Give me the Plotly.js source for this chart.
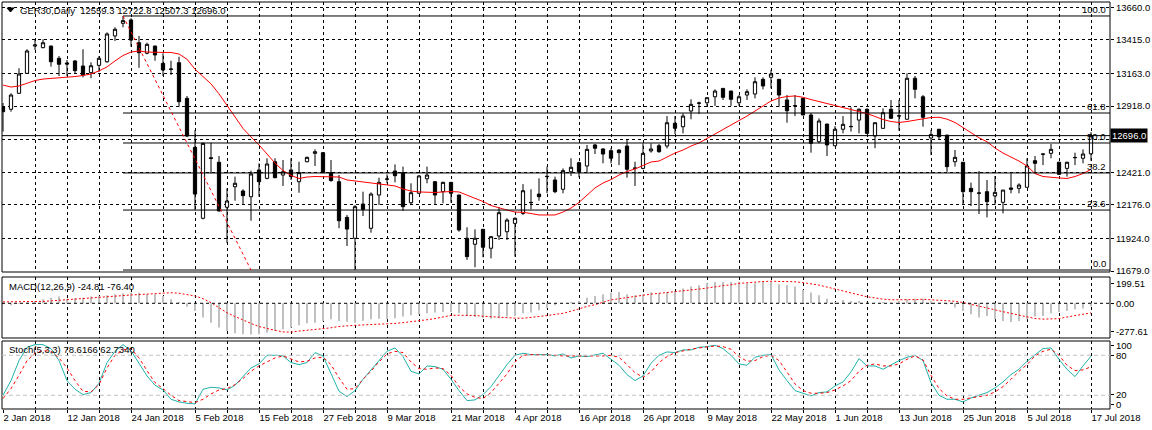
<!DOCTYPE html>
<html><head><meta charset="utf-8">
<script src="https://cdn.plot.ly/plotly-3.0.1.min.js"></script>
<style>html,body{margin:0;padding:0;background:#fff}#chart{width:1152px;height:430px}</style>
</head><body><div id="chart"></div>
<script>
const dates = [
'2018-01-02','2018-01-03','2018-01-04','2018-01-05','2018-01-08','2018-01-09','2018-01-10','2018-01-11','2018-01-12','2018-01-15',
'2018-01-16','2018-01-17','2018-01-18','2018-01-19','2018-01-22','2018-01-23','2018-01-24','2018-01-25','2018-01-26','2018-01-29',
'2018-01-30','2018-01-31','2018-02-01','2018-02-02','2018-02-05','2018-02-06','2018-02-07','2018-02-08','2018-02-09','2018-02-12',
'2018-02-13','2018-02-14','2018-02-15','2018-02-16','2018-02-19','2018-02-20','2018-02-21','2018-02-22','2018-02-23','2018-02-26',
'2018-02-27','2018-02-28','2018-03-01','2018-03-02','2018-03-05','2018-03-06','2018-03-07','2018-03-08','2018-03-09','2018-03-12',
'2018-03-13','2018-03-14','2018-03-15','2018-03-16','2018-03-19','2018-03-20','2018-03-21','2018-03-22','2018-03-23','2018-03-26',
'2018-03-27','2018-03-28','2018-03-29','2018-04-03','2018-04-04','2018-04-05','2018-04-06','2018-04-09','2018-04-10','2018-04-11',
'2018-04-12','2018-04-13','2018-04-16','2018-04-17','2018-04-18','2018-04-19','2018-04-20','2018-04-23','2018-04-24','2018-04-25',
'2018-04-26','2018-04-27','2018-04-30','2018-05-02','2018-05-03','2018-05-04','2018-05-07','2018-05-08','2018-05-09','2018-05-10',
'2018-05-11','2018-05-14','2018-05-15','2018-05-16','2018-05-17','2018-05-18','2018-05-22','2018-05-23','2018-05-24','2018-05-25',
'2018-05-28','2018-05-29','2018-05-30','2018-05-31','2018-06-01','2018-06-04','2018-06-05','2018-06-06','2018-06-07','2018-06-08',
'2018-06-11','2018-06-12','2018-06-13','2018-06-14','2018-06-15','2018-06-18','2018-06-19','2018-06-20','2018-06-21','2018-06-22',
'2018-06-25','2018-06-26','2018-06-27','2018-06-28','2018-06-29','2018-07-02','2018-07-03','2018-07-04','2018-07-05','2018-07-06',
'2018-07-09','2018-07-10','2018-07-11','2018-07-12','2018-07-13','2018-07-16','2018-07-17'];

const openP = [12913,12894,13014,13164,13369,13357,13369,13277,13242,13257,
13219,13169,13224,13251,13445,13540,13565,13394,13315,13369,
13239,13197,13244,12976,12608,12075,12530,12496,12158,12312,
12280,12237,12438,12375,12500,12400,12438,12350,12500,12563,
12568,12418,12350,12082,11925,12182,12000,12250,12368,12430,
12418,12192,12263,12372,12350,12275,12345,12250,11925,11880,
11992,11850,11942,11974,12037,12112,12192,12257,12388,12363,
12293,12425,12493,12468,12626,12596,12583,12588,12618,12450,
12450,12581,12620,12618,12789,12763,12881,12939,12943,12988,
13051,13031,12943,13001,13009,13119,13134,13119,12964,12919,
12976,12851,12650,12783,12620,12744,12763,12813,12894,12693,
12751,12894,12843,12819,13127,12988,12678,12744,12700,12500,
12496,12300,12263,12275,12243,12195,12303,12300,12308,12508,
12556,12563,12496,12450,12530,12526,12559.3];
const highP = [12941,13014,13202,13345,13414,13420,13372,13294,13264,13264,
13345,13247,13294,13472,13510,13595,13578,13445,13394,13372,
13315,13259,13289,12994,12738,12643,12643,12543,12300,12388,
12293,12433,12488,12526,12526,12513,12526,12500,12538,12593,
12570,12513,12400,12100,12175,12275,12270,12380,12405,12480,
12463,12338,12400,12463,12352,12350,12347,12252,12007,11992,
11994,11940,12158,12075,12082,12332,12293,12375,12463,12388,
12450,12526,12500,12626,12633,12601,12601,12593,12663,12500,
12638,12638,12633,12843,12843,12864,12969,12951,12985,13044,
13053,13033,13001,13044,13134,13134,13189,13121,13001,13001,
12978,12866,12826,12785,12768,12843,12909,12901,12901,12795,
12901,12964,12964,13164,13144,13001,12738,12746,12702,12588,
12498,12343,12430,12363,12393,12287,12413,12338,12526,12543,
12558,12633,12500,12500,12568,12593,12722.8];
const lowP = [12726,12876,13010,13160,13339,13352,13214,13144,13144,13159,
13134,13127,13176,13244,13407,13510,13364,13206,13307,13259,
13144,13152,12913,12685,12137,12067,12413,12125,11890,12207,
12175,12057,12237,12368,12376,12318,12363,12267,12496,12468,
12415,12350,12000,11867,11687,12092,11967,12175,12338,12345,
12130,12175,12260,12338,12175,12188,12192,11974,11762,11707,
11782,11774,11912,11912,11787,12100,12142,12207,12263,12263,
12263,12393,12383,12418,12558,12488,12488,12475,12380,12318,
12443,12568,12568,12600,12708,12713,12819,12858,12919,12919,
12964,12919,12919,12964,12976,13044,13051,12913,12793,12843,
12851,12568,12638,12543,12618,12713,12726,12713,12708,12601,
12749,12826,12733,12817,12976,12763,12550,12663,12425,12463,
12175,12167,12107,12082,12175,12112,12263,12263,12306,12413,
12475,12526,12400,12388,12475,12488,12507.3];
const closeP = [12876,13001,13159,13332,13377,13394,13251,13232,13234,13184,
13152,13221,13277,13460,13495,13560,13414,13319,13382,13302,
13189,13194,12951,12693,12257,12638,12524,12130,12205,12338,
12245,12408,12350,12483,12380,12425,12388,12418,12533,12575,
12418,12358,12057,11994,12162,12142,12257,12345,12370,12395,
12162,12267,12393,12400,12250,12345,12263,11987,11787,11925,
11857,11937,12117,12062,12075,12282,12194,12237,12390,12275,
12433,12458,12425,12593,12601,12558,12526,12568,12443,12452,
12563,12596,12575,12793,12751,12843,12931,12941,12981,13031,
12984,12969,12988,13026,13101,13069,13159,13001,12883,12921,
12851,12638,12806,12626,12744,12781,12765,12894,12713,12793,
12868,12826,12845,13127,13044,12834,12705,12688,12463,12533,
12275,12275,12265,12200,12270,12287,12293,12325,12468,12488,
12558,12593,12405,12496,12532,12558,12696.0];
const maLine = [13076,13061,13069,13088,13110,13121,13125,13129,13133,13140,
13148,13159,13182,13212,13257,13298,13324,13332,13324,13321,
13321,13321,13309,13270,13195,13140,13085,13010,12926,12836,
12750,12686,12626,12558,12490,12434,12397,12374,12385,12389,
12389,12389,12385,12363,12355,12348,12338,12330,12325,12318,
12295,12280,12273,12269,12269,12273,12276,12273,12250,12227,
12201,12171,12152,12137,12122,12120,12111,12100,12100,12100,
12122,12152,12194,12250,12303,12340,12366,12400,12427,12445,
12472,12498,12505,12535,12565,12588,12618,12641,12675,12705,
12738,12772,12810,12843,12881,12919,12956,12979,12990,12994,
12984,12967,12952,12937,12922,12907,12892,12877,12862,12840,
12817,12802,12795,12802,12813,12826,12832,12834,12820,12795,
12758,12718,12680,12650,12603,12565,12535,12505,12468,12411,
12389,12381,12378,12374,12389,12411,12442];
const macdMain = [-8,-16,-5,5,19,32,45,53,37,42,
45,53,58,64,72,80,85,85,72,72,
58,32,11,-27,-61,-114,-154,-193,-220,-239,
-246,-249,-246,-233,-220,-207,-193,-175,-159,-154,
-140,-127,-140,-146,-154,-138,-127,-122,-127,-119,
-106,-95,-87,-80,-74,-69,-69,-80,-101,-109,
-117,-122,-119,-106,-101,-80,-74,-56,-40,-16,
0,11,19,45,58,72,85,90,72,64,
72,85,80,90,98,117,133,143,159,170,
170,170,172,159,159,170,170,151,143,133,
106,85,64,37,11,27,19,19,5,5,
11,5,19,32,37,37,19,5,-8,-34,
-61,-87,-114,-101,-127,-140,-148,-140,-127,-106,
-101,-80,-69,-61,-48,-42,-24.81];
const macdSignal = [11,11,11,11,11,15,19,24,30,34,
39,44,48,54,59,64,66,69,73,78,
83,84,80,70,58,37,5,-35,-75,-105,
-135,-160,-185,-203,-215,-228,-229,-221,-215,-212,
-205,-195,-184,-178,-175,-172,-170,-167,-163,-160,
-154,-148,-140,-131,-122,-108,-96,-95,-95,-97,
-103,-108,-112,-117,-118,-119,-114,-108,-98,-88,
-80,-63,-43,-25,-11,10,27,36,46,57,
65,73,79,85,91,97,106,113,121,132,
140,147,158,163,169,173,175,175,175,171,
164,157,145,129,115,100,82,67,52,40,
33,28,27,27,29,32,29,26,23,16,
6,-7,-21,-37,-52,-67,-82,-97,-110,-121,
-126,-126,-122,-109,-97,-84,-76.40];
const stochK = [20,42,72,92,96,96,90,72,42,29,
21,24,38,69,86,96,87,68,49,35,
28,14,10,8,7,29,32,31,28,35,
48,61,67,80,80,79,69,66,69,84,
79,52,26,18,27,44,58,73,86,91,
78,56,52,64,63,59,44,27,12,13,
21,33,50,66,80,83,81,81,81,79,
82,76,79,78,81,83,74,65,51,42,
49,68,80,85,84,88,88,92,93,95,
90,80,67,65,77,80,81,58,42,27,
23,19,24,25,34,40,55,75,64,64,
59,66,72,77,80,72,39,20,14,14,
10,16,20,24,31,40,51,59,71,81,
90,91,74,59,48,64,78.6166];
const stochD = [15,30,50,72,83,87,86,76,61,42,
26,25,36,61,80,88,90,76,57,39,
30,20,12,10,9,14,22,28,30,36,
45,56,64,70,76,79,74,70,71,76,
77,66,46,29,30,44,56,70,82,86,
84,70,60,59,61,60,50,33,22,17,
15,24,38,52,70,80,81,81,80,80,
79,79,79,78,78,79,80,77,66,54,
47,55,69,78,84,87,89,91,93,94,
93,89,78,71,72,78,80,72,55,37,
27,23,23,24,28,34,42,56,65,67,
64,64,67,74,79,73,50,30,19,14,
14,16,18,20,25,33,44,56,66,79,
86,89,80,65,57,58,62.7340];
const tickLabels = ['2 Jan 2018','12 Jan 2018','24 Jan 2018','5 Feb 2018','15 Feb 2018','27 Feb 2018',
'9 Mar 2018','21 Mar 2018','4 Apr 2018','16 Apr 2018','26 Apr 2018','9 May 2018','22 May 2018',
'1 Jun 2018','13 Jun 2018','25 Jun 2018','5 Jul 2018','17 Jul 2018'];
const priceTicks = [13660,13415,13163,12918,12667,12421,12176,11924,11679];
const priceTickText = ['13660.0','13415.0','13163.0','12918.0','','12421.0','12176.0','11924.0','11679.0'];
const fibLevels = [100,61.8,50,38.2,23.6,0];
const fibHigh = 13595, fibLow = 11686.5;
const fibStartIdx = 15, fibEndIdx = 31;
const lastPrice = 12696.0;
const titleText = 'GER30,Daily\u00a0\u00a012559.3 12722.8 12507.3 12696.0';
const macdText = 'MACD(12,26,9) -24.81 -76.40';
const stochText = 'Stoch(5,3,3) 78.6166 62.7340';

const W = 1152, H = 430;
const px = x => x / W, py = y => 1 - y / H;
const FONT = 'Liberation Sans';
const fs = 9.5;

const gridVals = [], gridText = [];
for (let i = 0; i < dates.length; i += 4) {
  gridVals.push(dates[i]);
  gridText.push(i % 8 === 0 ? tickLabels[i / 8] : '');
}

const traces = [
  {type:'candlestick', x:dates, open:openP, high:highP, low:lowP, close:closeP,
   xaxis:'x', yaxis:'y', whiskerwidth:0, hoverinfo:'skip',
   increasing:{line:{color:'#000',width:1}, fillcolor:'#fff'},
   decreasing:{line:{color:'#000',width:1}, fillcolor:'#000'}},
  {type:'scatter', mode:'lines', x:dates, y:maLine, xaxis:'x', yaxis:'y',
   line:{color:'#ff0000', width:1}, hoverinfo:'skip'},
  {type:'bar', x:dates, y:macdMain, xaxis:'x', yaxis:'y2', width:0.25,
   marker:{color:'#c0c0c0', line:{width:0}}, hoverinfo:'skip'},
  {type:'scatter', mode:'lines', x:dates, y:macdSignal, xaxis:'x', yaxis:'y2',
   line:{color:'#ff0000', width:1, dash:'2px,2px'}, hoverinfo:'skip'},
  {type:'scatter', mode:'lines', x:dates, y:stochK, xaxis:'x', yaxis:'y3',
   line:{color:'#20b2aa', width:1}, hoverinfo:'skip'},
  {type:'scatter', mode:'lines', x:dates, y:stochD, xaxis:'x', yaxis:'y3',
   line:{color:'#ff0000', width:1, dash:'3px,3px'}, hoverinfo:'skip'}
];

const shapes = [];
[[2,2,1110,272],[2,277,1110,338],[2,341,1110,409]].forEach(r => {
  shapes.push({type:'rect', xref:'paper', yref:'paper', x0:px(r[0]), x1:px(r[2]), y0:py(r[3]), y1:py(r[1]),
    line:{color:'#000', width:1}, fillcolor:'rgba(0,0,0,0)', layer:'above'});
});
shapes.push({type:'line', xref:'paper', yref:'y', x0:px(2), x1:px(1110), y0:lastPrice, y1:lastPrice,
  line:{color:'#000', width:1}});
fibLevels.forEach(l => {
  const v = fibLow + (fibHigh - fibLow) * l / 100;
  shapes.push({type:'line', xref:'x', yref:'y', x0:fibStartIdx, x1:138.375, y0:v, y1:v,
    line:{color:'#000', width:1}});
});
shapes.push({type:'line', xref:'x', yref:'y', x0:fibStartIdx, x1:fibEndIdx, y0:fibHigh, y1:fibLow,
  line:{color:'#ff0000', width:1, dash:'3px,3px'}});
shapes.push({type:'line', xref:'paper', yref:'y2', x0:px(2), x1:px(1110), y0:0, y1:0,
  line:{color:'#000', width:1, dash:'3px,3px'}});
[80,20].forEach(v => shapes.push({type:'line', xref:'paper', yref:'y3', x0:px(2), x1:px(1110), y0:v, y1:v,
  line:{color:'#c0c0c0', width:1, dash:'4px,3px'}}));
shapes.push({type:'path', xref:'paper', yref:'paper',
  path:`M ${px(7)} ${py(8)} L ${px(14)} ${py(8)} L ${px(10.5)} ${py(12)} Z`,
  fillcolor:'#000', line:{color:'#000', width:1}});

const annotations = [
  {xref:'paper', yref:'paper', x:px(18), y:py(11), xanchor:'left', yanchor:'middle', text:titleText, showarrow:false,
   font:{family:FONT, size:fs, color:'#000'}},
  {xref:'paper', yref:'paper', x:px(7), y:py(286), xanchor:'left', yanchor:'middle', text:macdText, showarrow:false,
   font:{family:FONT, size:fs, color:'#000'}},
  {xref:'paper', yref:'paper', x:px(7), y:py(349), xanchor:'left', yanchor:'middle', text:stochText, showarrow:false,
   font:{family:FONT, size:fs, color:'#000'}},
  {xref:'paper', yref:'y', x:px(1110), y:lastPrice, xanchor:'left', yanchor:'middle', text:lastPrice.toFixed(1),
   showarrow:false, bgcolor:'#000', borderpad:1, font:{family:FONT, size:fs, color:'#fff'}}
];
fibLevels.forEach(l => {
  const v = fibLow + (fibHigh - fibLow) * l / 100;
  annotations.push({xref:'paper', yref:'y', x:px(1108), y:v, xanchor:'right', yanchor:'bottom', yshift:-1,
    text:l.toFixed(1), showarrow:false, font:{family:FONT, size:fs, color:'#000'}});
});

const yBase = {side:'right', anchor:'x', zeroline:false, ticks:'outside', ticklen:3, tickcolor:'#000',
  tickfont:{family:FONT, size:fs, color:'#000'}, showline:false, fixedrange:true};

const layout = {
  width:W, height:H, margin:{l:0, r:0, t:0, b:0}, paper_bgcolor:'#fff', plot_bgcolor:'#fff',
  showlegend:false, hovermode:false, boxgap:0.42,
  font:{family:FONT, size:fs, color:'#000'},
  xaxis:{type:'category', domain:[px(2), px(1110)], range:[-0.125, 138.375], anchor:'y3',
    tickvals:gridVals, ticktext:gridText, tickangle:0, showgrid:true, gridcolor:'#000', gridwidth:1, griddash:'3px,3px',
    ticks:'outside', ticklen:3, tickcolor:'#000', ticklabelposition:'outside right',
    tickfont:{family:FONT, size:fs, color:'#000'}, zeroline:false, showline:false,
    rangeslider:{visible:false}, fixedrange:true},
  yaxis:Object.assign({}, yBase, {domain:[py(272), py(2)], range:[11671.5, 13700],
    tickvals:priceTicks, ticktext:priceTickText, showgrid:true, gridcolor:'#000', gridwidth:1, griddash:'3px,3px'}),
  yaxis2:Object.assign({}, yBase, {domain:[py(338), py(277)], range:[-276, 209],
    tickvals:[153.4, 0, -225.8], ticktext:['199.51','0.00','-277.61'], showgrid:false}),
  yaxis3:Object.assign({}, yBase, {domain:[py(409), py(341)], range:[-0.6, 101.4],
    tickvals:[94, 80, 21.5, 5.5], ticktext:['100','80','20','0'], showgrid:false}),
  shapes:shapes, annotations:annotations
};

Plotly.newPlot('chart', traces, layout, {displayModeBar:false, staticPlot:true});
</script></body></html>
